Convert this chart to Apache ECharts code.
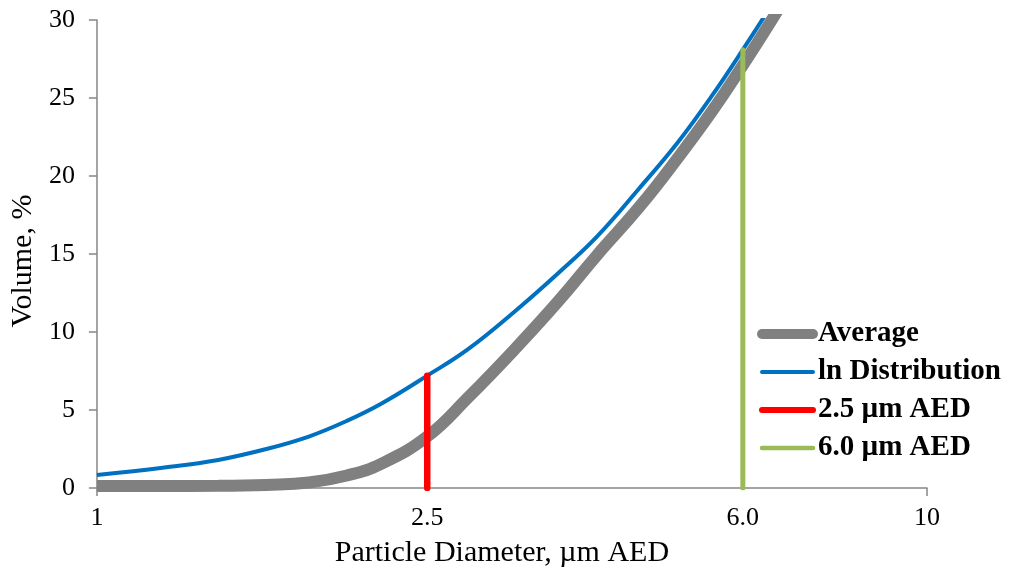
<!DOCTYPE html>
<html>
<head>
<meta charset="utf-8">
<script src="https://cdn.jsdelivr.net/npm/echarts@6/dist/echarts.min.js"></script>
<style>
  html, body { margin: 0; padding: 0; background: #fff; }
  #chart { width: 1010px; height: 575px; }
</style>
</head>
<body>
<div id="chart"></div>
<script>
// Particle diameters (µm AED) at which the volume curves are sampled
const diameters = [1.0, 1.2, 1.4, 1.6, 1.8, 2.0, 2.2, 2.5, 2.8, 3.2, 3.6, 4.0, 4.5, 5.0, 5.5, 6.0, 6.5, 7.0];
// Measured average volume, %
const averageVolume = [0.13, 0.13, 0.14, 0.2, 0.35, 0.8, 1.55, 3.3, 5.8, 9.0, 12.0, 14.9, 18.0, 21.1, 24.1, 27.1, 30.0, 32.8];
// Fitted log-normal distribution, %
const lnDistVolume = [0.83, 1.3, 1.8, 2.5, 3.3, 4.3, 5.4, 7.2, 8.9, 11.4, 13.8, 16.1, 19.2, 22.1, 25.1, 28.1, 31.0, 34.0];
// Cut-off markers: diameter and the height they reach
const cut25 = { d: 2.5, top: 7.2 };
const cut60 = { d: 6.0, top: 28.1 };
// Axis labels
const xLabelValues = [1, 2.5, 6, 10];
const xLabelTexts = ['1', '2.5', '6.0', '10'];
const xTickValues = [1, 10];
const seriesNames = ['Average', 'ln Distribution', '2.5 µm AED', '6.0 µm AED'];

const serif = 'Liberation Serif, Times New Roman, serif';
const axisGrey = '#868686';

const pairs = (xs, ys) => xs.map((x, i) => [x, ys[i]]);
const cutLine = c => [[c.d, 0], [c.d, c.top]];
const legendItem = (name, width) => ({
  name,
  lineStyle: { width, cap: 'round' },
  itemStyle: { opacity: 0 }
});

const chart = echarts.init(document.getElementById('chart'), null, { renderer: 'canvas' });

chart.setOption({
  animation: false,
  backgroundColor: '#fff',
  grid: { left: 96, right: 83, top: 20, bottom: 87, containLabel: false },
  xAxis: {
    type: 'log',
    logBase: 10,
    min: 1,
    max: 10,
    name: 'Particle Diameter, µm AED',
    nameLocation: 'middle',
    nameGap: 50,
    nameTextStyle: { fontFamily: serif, fontSize: 30, color: '#000', padding: [0, 20, 0, 0] },
    axisLine: { show: true, lineStyle: { color: axisGrey, width: 1.5 } },
    axisTick: { show: true, length: 8, customValues: xTickValues, lineStyle: { color: axisGrey, width: 1.5 } },
    axisLabel: {
      customValues: xLabelValues,
      margin: 17,
      fontFamily: serif,
      fontSize: 26,
      color: '#000',
      formatter: v => {
        const i = xLabelValues.findIndex(t => Math.abs(t - v) < 1e-6);
        return i >= 0 ? xLabelTexts[i] : '';
      }
    },
    splitLine: { show: false },
    minorTick: { show: false }
  },
  yAxis: {
    type: 'value',
    min: 0,
    max: 30,
    interval: 5,
    name: 'Volume, %',
    nameLocation: 'middle',
    nameGap: 58,
    nameTextStyle: { fontFamily: serif, fontSize: 30, color: '#000', padding: [0, 14, 0, 0] },
    axisLine: { show: true, lineStyle: { color: axisGrey, width: 1.5 } },
    axisTick: { show: true, length: 8, lineStyle: { color: axisGrey, width: 1.5 } },
    axisLabel: { margin: 22, fontFamily: serif, fontSize: 26, color: '#000' },
    splitLine: { show: false }
  },
  legend: {
    orient: 'vertical',
    left: 752,
    top: 314,
    itemWidth: 51,
    itemHeight: 14,
    itemGap: 8,
    textStyle: { fontFamily: serif, fontWeight: 'bold', fontSize: 29, color: '#000', lineHeight: 30 },
    data: [
      legendItem(seriesNames[0], 10),
      legendItem(seriesNames[1], 4),
      legendItem(seriesNames[2], 6),
      legendItem(seriesNames[3], 4.5)
    ]
  },
  series: [
    {
      name: seriesNames[0],
      type: 'line',
      data: pairs(diameters, averageVolume),
      smooth: 0.45,
      symbol: 'none',
      color: '#808080',
      lineStyle: { color: '#808080', width: 12 }
    },
    {
      name: seriesNames[1],
      type: 'line',
      data: pairs(diameters, lnDistVolume),
      smooth: 0.4,
      symbol: 'none',
      color: '#0070C0',
      lineStyle: { color: '#0070C0', width: 4 }
    },
    {
      name: seriesNames[2],
      type: 'line',
      data: cutLine(cut25),
      symbol: 'none',
      color: '#FF0000',
      lineStyle: { color: '#FF0000', width: 6.5, cap: 'round' }
    },
    {
      name: seriesNames[3],
      type: 'line',
      data: cutLine(cut60),
      symbol: 'none',
      color: '#9BBB59',
      lineStyle: { color: '#9BBB59', width: 5, cap: 'round' }
    }
  ]
});
</script>
</body>
</html>
